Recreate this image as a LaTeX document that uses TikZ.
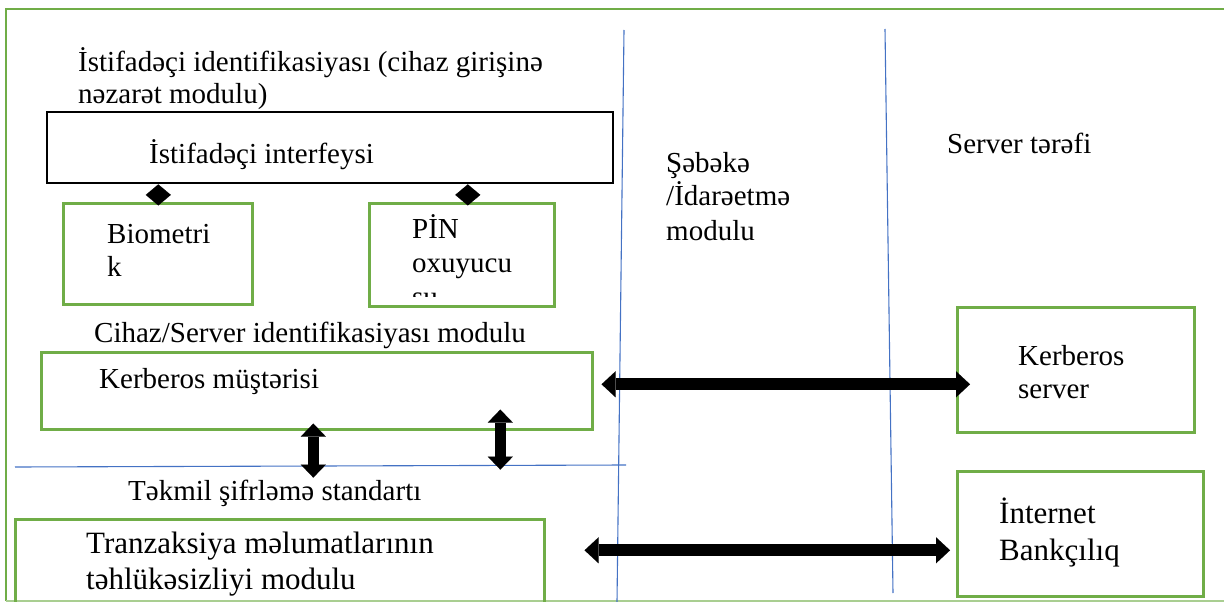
\documentclass[tikz,border=0pt]{standalone}
\usepackage{fontspec}
\setmainfont{Liberation Serif}
\usetikzlibrary{arrows.meta,calc}
\definecolor{boxgreen}{HTML}{70AD47}
\definecolor{lineblue}{HTML}{4472C4}
\begin{document}
\begin{tikzpicture}[x=1pt,y=-1pt,
  txt/.style={anchor=base west,inner sep=0pt,font=\fontsize{29pt}{34pt}\selectfont},
  txtbig/.style={txt,font=\fontsize{31pt}{37pt}\selectfont},
  gbox/.style={draw=boxgreen,line width=2.6pt,inner sep=0pt,anchor=north west},
  kbox/.style={draw=black,line width=2.4pt,inner sep=0pt,anchor=north west},
  sep/.style={draw=lineblue,line width=1.1pt},
  dblarrow/.style={line width=12pt,
    {Triangle[length=14pt,width=26pt,line width=0.01pt]}-{Triangle[length=14pt,width=26pt,line width=0.01pt]}},
  vdblarrow/.style={line width=11pt,
    {Triangle[length=13pt,width=25pt,line width=0.01pt]}-{Triangle[length=13pt,width=25pt,line width=0.01pt]}},
  comp/.style={line width=0.6pt,-{Diamond[length=21pt,width=25pt,line width=0.01pt]}}
]
\useasboundingbox (0,0) rectangle (1224,602);

% outer frame
\draw[boxgreen,line width=2.6pt] (6,601) -- (6,9) -- (1240,9);
\draw[boxgreen!60,line width=1.5pt] (6,601) -- (1240,601);

% column separators
\coordinate (s1top) at (624,30);
\coordinate (s1bot) at (617,602);
\coordinate (s2top) at (885,29);
\coordinate (s2bot) at (893,593);
\coordinate (hl) at (15,467);
\coordinate (hr) at (626,465);
\draw[sep] (s1top) -- (s1bot);
\draw[sep] (s2top) -- (s2bot);
\draw[sep] (hl) -- (hr);

% user identification block
\node[txt] (title1) at (78,72) {İstifadəçi identifikasiyası (cihaz girişinə};
\node[txt] (title2) at (78,103) {nəzarət modulu)};
\node[kbox,minimum width=566pt,minimum height=71pt] (iface) at (46,111) {};
\node[txt] (ifacetxt) at (149,163) {İstifadəçi interfeysi};

\node[gbox,minimum width=189pt,minimum height=101pt] (bio) at (62,202) {};
\node[txt] (bio1) at (107,243) {Biometri};
\node[txt] (bio2) at (107,276) {k};

\node[gbox,minimum width=185pt,minimum height=103pt] (pin) at (368,202) {};
\node[txt] (pin1) at (412,238) {PİN};
\node[txt] (pin2) at (412,272) {oxuyucu};
\begin{scope}
  \clip (370,280) rectangle (551,296);
  \node[txt] (pin3) at (412,306) {su};
\end{scope}

% composition links (diamond at the interface side)
\coordinate (biotop) at ($(bio.north)+(0.5,1)$);
\coordinate (pintop) at ($(pin.north)+(6,1)$);
\draw[comp] (biotop) -- (biotop |- iface.south);
\draw[comp] (pintop) -- (pintop |- iface.south);

% device / server identification
\node[txt] (devtitle) at (94,342) {Cihaz/Server identifikasiyası modulu};
\node[gbox,minimum width=551pt,minimum height=77pt] (kclient) at (40,351) {};
\node[txt] (kclienttxt) at (99,388) {Kerberos müştərisi};

\draw[vdblarrow] ($(kclient.south)+(-3.5,-7)$) -- ($(kclient.south)+(-3.5,47)$);
\draw[vdblarrow] ($(kclient.south)+(183.5,-21)$) -- ($(kclient.south)+(183.5,39)$);

% encryption / transaction block
\node[txt] (aes) at (128,500) {Təkmil şifrləmə standartı};
\node[gbox,minimum width=529pt,minimum height=102pt] (trans) at (14,518) {};
\node[txtbig] (trans1) at (86,553) {Tranzaksiya məlumatlarının};
\node[txtbig] (trans2) at (86,589) {təhlükəsizliyi modulu};

% network column
\node[txt] (net1) at (666,172) {Şəbəkə};
\node[txt] (net2) at (666,205) {/İdarəetmə};
\node[txt] (net3) at (666,240) {modulu};

% server column
\node[txt] (srvtitle) at (947,153) {Server tərəfi};
\node[gbox,minimum width=237pt,minimum height=125pt] (kserver) at (956,306) {};
\node[txt] (ks1) at (1018,365) {Kerberos};
\node[txt] (ks2) at (1018,398) {server};

\node[gbox,minimum width=246pt,minimum height=125pt] (inet) at (956,470) {};
\node[txtbig] (ib1) at (999,523) {İnternet};
\node[txtbig] (ib2) at (999,560) {Bankçılıq};

% links across the network
\draw[dblarrow] ($(kclient.east)+(8,-6.5)$) -- ($(kserver.west)+(14,14.5)$);
\draw[dblarrow] ($(trans.east)+(39,-20)$) -- ($(inet.west)+(-6,16.5)$);
\end{tikzpicture}
\end{document}
